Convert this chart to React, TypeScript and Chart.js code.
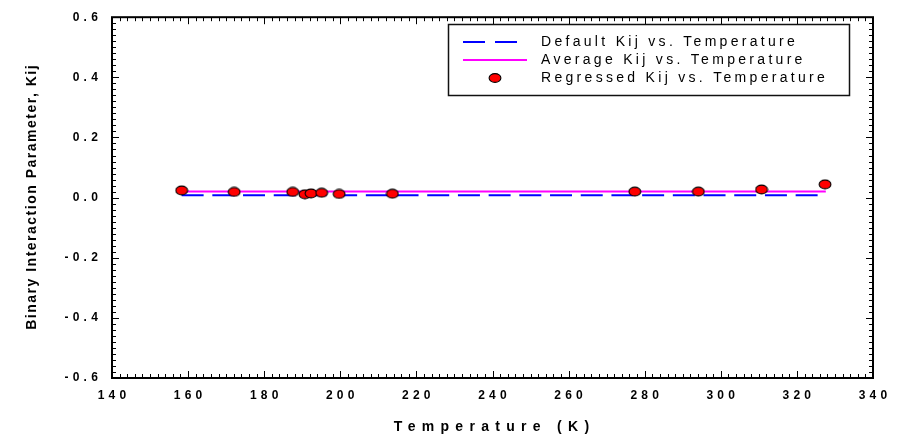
import React, { useEffect, useRef } from "react";
import { Chart, registerables } from "chart.js";

Chart.register(...registerables);

// ---- data ----
const temperatures = [158.3, 172.1, 187.5, 190.7, 192.3, 195.1, 199.7, 213.7, 277.4, 294.1, 310.7, 327.4];
const regressedKij = [0.024, 0.019, 0.019, 0.011, 0.014, 0.016, 0.012, 0.013, 0.02, 0.02, 0.027, 0.044];
const lineTemperatures = [158.3, 327.6];
const defaultKij = [0.0075, 0.0075];
const averageKij = [0.0205, 0.0205];
const seriesLabels = [
  "Default Kij vs. Temperature",
  "Average Kij vs. Temperature",
  "Regressed Kij vs. Temperature",
];
const xTitle = "Temperature (K)";
const yTitle = "Binary Interaction Parameter, Kij";
const xRange = [140, 340];
const yRange = [-0.6, 0.6];

const FONT = "'Liberation Sans', Arial, Helvetica, sans-serif";

function makePointImage(): HTMLCanvasElement {
  const c = document.createElement("canvas");
  c.width = 14;
  c.height = 11;
  const g = c.getContext("2d")!;
  g.beginPath();
  g.ellipse(7, 5.5, 5.9, 4.4, 0, 0, Math.PI * 2);
  g.fillStyle = "#ff0000";
  g.fill();
  g.lineWidth = 1.1;
  g.strokeStyle = "#000000";
  g.stroke();
  return c;
}

const decorPlugin = {
  id: "decor",
  beforeDraw(chart: any) {
    (chart.ctx as any).letterSpacing = "4.2px";
  },
  afterDraw(chart: any) {
    const ctx = chart.ctx as CanvasRenderingContext2D & { letterSpacing: string };
    const { left, right, top, bottom } = chart.chartArea;
    const xs = chart.scales.x;
    const ys = chart.scales.y;
    ctx.save();
    ctx.letterSpacing = "0px";
    // inward tick marks on all four sides
    ctx.strokeStyle = "#000";
    ctx.lineWidth = 1;
    ctx.beginPath();
    for (let i = 0; i <= 100; i++) {
      const v = xRange[0] + 2 * i;
      const len = i % 10 === 0 ? 7 : 4;
      const px = Math.round(xs.getPixelForValue(v)) + 0.5;
      ctx.moveTo(px, bottom);
      ctx.lineTo(px, bottom - len);
      ctx.moveTo(px, top);
      ctx.lineTo(px, top + len);
    }
    for (let i = 0; i <= 60; i++) {
      const v = yRange[0] + 0.02 * i;
      const len = i % 10 === 0 ? 7 : 4;
      const py = Math.round(ys.getPixelForValue(v)) + 0.5;
      ctx.moveTo(left, py);
      ctx.lineTo(left + len, py);
      ctx.moveTo(right, py);
      ctx.lineTo(right - len, py);
    }
    ctx.stroke();
    // frame
    ctx.lineWidth = 2;
    ctx.strokeRect(left, top, right - left, bottom - top);

    // legend
    ctx.fillStyle = "#fff";
    ctx.fillRect(448, 24, 402, 72);
    ctx.lineWidth = 1.5;
    ctx.strokeStyle = "#111";
    ctx.strokeRect(448.5, 24.5, 401, 71);
    const rows = [42, 60, 78];
    ctx.lineWidth = 2;
    ctx.strokeStyle = "#0000ff";
    ctx.beginPath();
    ctx.moveTo(463, rows[0]);
    ctx.lineTo(485, rows[0]);
    ctx.moveTo(495, rows[0]);
    ctx.lineTo(517, rows[0]);
    ctx.stroke();
    ctx.strokeStyle = "#ff00ff";
    ctx.beginPath();
    ctx.moveTo(463, rows[1]);
    ctx.lineTo(527, rows[1]);
    ctx.stroke();
    ctx.beginPath();
    ctx.ellipse(495, rows[2], 5.9, 4.4, 0, 0, Math.PI * 2);
    ctx.fillStyle = "#ff0000";
    ctx.fill();
    ctx.lineWidth = 1.1;
    ctx.strokeStyle = "#000";
    ctx.stroke();
    ctx.fillStyle = "#000";
    ctx.font = `14px ${FONT}`;
    ctx.letterSpacing = "3.3px";
    ctx.textAlign = "left";
    ctx.textBaseline = "middle";
    chart.data.datasets.forEach((ds: any, i: number) => {
      ctx.fillText(ds.label, 541, rows[i]);
    });

    // axis titles
    ctx.font = `bold 14px ${FONT}`;
    ctx.letterSpacing = "6.3px";
    const w = ctx.measureText(xTitle).width - 6.3;
    ctx.fillText(xTitle, 491.5 - w / 2, 427);
    ctx.translate(32, (top + bottom) / 2);
    ctx.rotate(-Math.PI / 2);
    ctx.letterSpacing = "1.5px";
    const wy = ctx.measureText(yTitle).width - 1.5;
    ctx.fillText(yTitle, -wy / 2, 0);
    ctx.restore();
  },
};

export default function App() {
  const ref = useRef<HTMLCanvasElement>(null);
  useEffect(() => {
    document.body.style.margin = "0";
    const canvas = ref.current!;
    const pointImg = makePointImage();
    const chart = new Chart(canvas, {
      type: "scatter",
      data: {
        datasets: [
          {
            label: seriesLabels[0],
            data: lineTemperatures.map((t, i) => ({ x: t, y: defaultKij[i] })),
            showLine: true,
            borderColor: "#0000ff",
            borderWidth: 2,
            borderDash: [22, 8.7],
            pointRadius: 0,
            order: 2,
          },
          {
            label: seriesLabels[1],
            data: lineTemperatures.map((t, i) => ({ x: t, y: averageKij[i] })),
            showLine: true,
            borderColor: "#ff00ff",
            borderWidth: 2,
            pointRadius: 0,
            order: 1,
          },
          {
            label: seriesLabels[2],
            data: temperatures.map((t, i) => ({ x: t, y: regressedKij[i] })),
            showLine: false,
            pointStyle: pointImg as any,
            pointRadius: 6,
            backgroundColor: "#ff0000",
            borderColor: "#000",
            order: 0,
          },
        ],
      },
      options: {
        responsive: false,
        animation: false,
        devicePixelRatio: 1,
        layout: { padding: { top: 12, right: 29, left: 0, bottom: 0 } },
        plugins: { legend: { display: false }, tooltip: { enabled: false } },
        scales: {
          x: {
            type: "linear",
            min: xRange[0],
            max: xRange[1],
            grid: { display: false, drawTicks: false },
            border: { display: false },
            ticks: {
              stepSize: 20,
              color: "#000",
              font: { family: FONT, size: 12, weight: "bold" },
              padding: 10,
              labelOffset: 2,
              maxRotation: 0,
            },
            afterFit(scale: any) {
              scale.height = 62;
            },
          },
          y: {
            type: "linear",
            min: yRange[0],
            max: yRange[1],
            grid: { display: false, drawTicks: false },
            border: { display: false },
            ticks: {
              stepSize: 0.2,
              color: "#000",
              font: { family: FONT, size: 12, weight: "bold" },
              padding: 10,
              callback: (v: any) => Number(v).toFixed(1),
            },
            afterFit(scale: any) {
              scale.width = 112;
            },
          },
        },
      },
      plugins: [decorPlugin],
    });
    return () => chart.destroy();
  }, []);
  return (
    <div style={{ width: 902, height: 440 }}>
      <canvas ref={ref} width={902} height={440} style={{ display: "block" }} />
    </div>
  );
}
